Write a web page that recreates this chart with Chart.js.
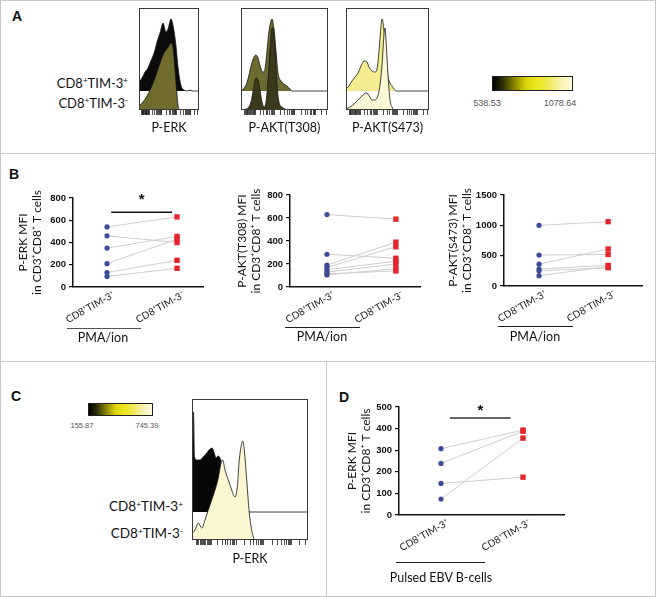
<!DOCTYPE html>
<html><head><meta charset="utf-8">
<script src="https://cdn.jsdelivr.net/npm/chart.js@4.4.1/dist/chart.umd.min.js"></script>
<style>
html,body{margin:0;padding:0}
body{width:656px;height:597px;position:relative;background:#fff;overflow:hidden;font-family:Lato,'DejaVu Sans',sans-serif;color:#111}
canvas{position:absolute}
.frame{position:absolute;left:0;top:0;width:656px;height:597px;box-sizing:border-box;border:1px solid #c8c8c8}
.hl{position:absolute;height:0;border-top:1px solid #c8c8c8}
.vl{position:absolute;width:0;border-left:1px solid #c8c8c8}
.t{position:absolute;white-space:nowrap;transform:translate(-50%,-50%);line-height:1}
.r{position:absolute;white-space:nowrap;transform:translate(-100%,-50%);line-height:1}
.pl{font-family:'Liberation Sans',Arial,sans-serif;font-weight:bold;font-size:14px}
sup{font-size:0.62em;vertical-align:0.55em;line-height:0}
.bar{position:absolute;height:0}
.cb{position:absolute;box-sizing:border-box;border:1px solid #222;background:linear-gradient(to right,#000 0%,#2e2d05 12%,#8f8a00 28%,#dcd40a 42%,#ece41c 55%,#efe84a 68%,#f6f1a6 84%,#fcf9dc 100%)}
.cbl{font-family:'Liberation Sans',Arial,sans-serif;color:#555}
</style>
</head><body>
<div class="frame"></div>
<div class="hl" style="left:0;top:153px;width:656px"></div>
<div class="hl" style="left:0;top:361px;width:656px"></div>
<div class="vl" style="left:326px;top:361px;height:236px"></div>

<div class="t pl" style="left:17px;top:16px">A</div>
<div class="t pl" style="left:14px;top:174px">B</div>
<div class="t pl" style="left:16px;top:396px">C</div>
<div class="t pl" style="left:344px;top:397px">D</div>

<!-- Panel A -->
<canvas id="a1" width="60" height="130" style="left:139px;top:8px"></canvas>
<canvas id="a2" width="87" height="130" style="left:241px;top:8px"></canvas>
<canvas id="a3" width="83" height="130" style="left:346px;top:8px"></canvas>
<div class="r" style="left:128px;top:83px;font-size:13px">CD8<sup>+</sup>TIM-3<sup>+</sup></div>
<div class="r" style="left:128px;top:103px;font-size:13px">CD8<sup>+</sup>TIM-3<sup>-</sup></div>
<div class="cb" style="left:492px;top:76px;width:81px;height:15px"></div>
<div class="t cbl" style="left:487px;top:103px;font-size:9px">538.53</div>
<div class="t cbl" style="left:560px;top:103px;font-size:9px">1078.64</div>

<!-- Panel B -->
<canvas id="b1" width="200" height="160" style="left:10px;top:180px"></canvas>
<canvas id="b2" width="199" height="160" style="left:228px;top:178px"></canvas>
<canvas id="b3" width="209" height="160" style="left:440px;top:178px"></canvas>
<div class="bar" style="left:67px;top:328px;width:74px;border-top:1.5px solid #555"></div>
<div class="bar" style="left:285px;top:327px;width:75px;border-top:1.5px solid #222"></div>
<div class="bar" style="left:498px;top:326px;width:75px;border-top:1.5px solid #222"></div>
<div class="t" style="left:103px;top:338px;font-size:12.5px">PMA/ion</div>
<div class="t" style="left:322px;top:337px;font-size:12.5px">PMA/ion</div>
<div class="t" style="left:535px;top:337px;font-size:12.5px">PMA/ion</div>

<!-- Panel C -->
<div class="cb" style="left:88px;top:403px;width:65px;height:13px"></div>
<div class="t cbl" style="left:82px;top:426px;font-size:7.5px">155.87</div>
<div class="t cbl" style="left:147px;top:426px;font-size:7.5px">745.39</div>
<canvas id="c1" width="116" height="171" style="left:192px;top:399px"></canvas>
<div class="r" style="left:183px;top:507px;font-size:13.5px">CD8<sup>+</sup>TIM-3<sup>+</sup></div>
<div class="r" style="left:183px;top:534px;font-size:13.5px">CD8<sup>+</sup>TIM-3<sup>-</sup></div>

<!-- Panel D -->
<canvas id="d1" width="236" height="180" style="left:335px;top:390px"></canvas>
<div class="bar" style="left:396px;top:562px;width:89px;border-top:1px solid #222"></div>
<div class="t" style="left:441px;top:578px;font-size:12.5px">Pulsed EBV B-cells</div>

<script>
// ---------- data ----------
const GROUPS = ['CD8\u207ATIM-3\u207A', 'CD8\u207ATIM-3\u207B'];

// Panel B: paired MFI values (TIM-3+ vs TIM-3-), PMA/ion
const PERK_TIM3POS = [540, 460, 350, 210, 130, 95];
const PERK_TIM3NEG = [630, 400, 455, 430, 240, 168];
const AKT308_TIM3POS = [630, 285, 190, 170, 150, 130, 115, 105];
const AKT308_TIM3NEG = [590, 250, 390, 350, 225, 200, 140, 160];
const AKT473_TIM3POS = [1000, 510, 360, 280, 250, 170];
const AKT473_TIM3NEG = [1060, 520, 610, 340, 300, 320];
// Panel D: pulsed EBV B-cells
const EBV_TIM3POS = [307, 239, 146, 74];
const EBV_TIM3NEG = [393, 388, 175, 356];

// Y tick settings
const YMAX_B12 = 800, YSTEP_B12 = 200;
const YMAX_B3 = 1500, YSTEP_B3 = 500;
const YMAX_D = 500, YSTEP_D = 100;

// Histograms: [channel, count]
const HIST_PERK_POS = [[0,9],[3,13],[6,19],[9,23],[11,28],[14,35],[16,41],[18,49],[21,58],[24,68],[27,59],[29,62],[32,72],[35,60],[37,45],[39,24],[41,10],[43,3],[45,1],[47,0],[52,0.8],[53,0],[60,0]];
const HIST_PERK_NEG = [[0,4],[4,8],[8,14],[12,22],[16,32],[20,44],[24,55],[27,60],[30,64],[32,67],[34,62],[36,40],[38,15],[39,5],[41,0],[60,0]];
const HIST_AKT308_POS = [[0,0],[1,1],[4,4],[7,12],[10,25],[13,34],[15,36],[17,33],[20,22],[22,19],[24,22],[26,40],[28,60],[30,70],[31,72],[33,62],[35,40],[37,18],[40,10],[43,7],[46,5],[49,2],[51,0],[87,0]];
const HIST_AKT308_NEG = [[0,0],[7,2],[10,8],[13,24],[15,32],[17,30],[19,20],[21,8],[23,3],[25,8],[27,30],[29,60],[31,82],[32,82],[34,60],[36,25],[38,8],[41,3],[44,1],[47,0],[87,0]];
const HIST_AKT473_POS = [[0,2],[3,5],[6,10],[9,14],[12,18],[15,25],[18,30],[21,29],[23,24],[26,20],[29,19],[31,22],[33,40],[35,65],[36,72],[38,60],[40,30],[42,14],[44,8],[46,5],[48,2],[50,0],[83,0]];
const HIST_AKT473_NEG = [[0,1],[4,3],[8,6],[12,10],[16,14],[20,17],[22,16],[25,11],[28,10],[31,12],[34,25],[36,45],[38,75],[39,82],[40,70],[42,35],[44,10],[46,3],[49,0],[83,0]];
const HIST_C_POS = [[0,0],[0.3,100],[1.5,100],[2.5,55],[5,52],[8,52],[11,55],[14,58],[17,62],[20,64],[22,60],[24,54],[26,56],[28,54],[30,48],[32,40],[34,28],[36,16],[38,8],[40,3],[43,0],[116,0]];
const HIST_C_NEG = [[0.3,7],[3,10],[6.3,17],[9.7,12],[13,20],[16.3,30],[19.7,40],[23,50],[26.3,62],[29,77],[30.7,80],[33,70],[36.3,60],[39.7,50],[43,43],[45.3,53],[47.3,80],[49,93],[50.7,99],[52.3,90],[54.7,60],[57.3,27],[59.7,10],[61.3,3],[63,0],[116,0]];

// Axis tick positions (fraction of axis range) for the flow histograms
const FLOW_TICK_FRACS = [0.04,0.05,0.06,0.07,0.08,0.09,0.10,0.11,0.12,0.13,0.14,0.15,0.16,0.17,
  0.22,0.26,0.29,0.31,0.33,0.345,0.36,0.37,0.38,
  0.45,0.50,0.53,0.555,0.575,0.59,0.60,0.61,0.62,
  0.69,0.74,0.77,0.795,0.815,0.83,0.84,0.85,0.86,0.93,0.98];

const FONT = "Lato, 'DejaVu Sans', sans-serif";
const TICKFONT = "'Liberation Sans', Arial, sans-serif";
Chart.defaults.font.family = FONT;

// ---------- plugins ----------
const boxPlugin = {
  id:'box',
  afterDraw(chart){
    const a = chart.chartArea, ctx = chart.ctx;
    ctx.save();
    ctx.strokeStyle = '#3a3a3a'; ctx.lineWidth = 1;
    ctx.strokeRect(Math.round(a.left)+0.5, Math.round(a.top)+0.5, Math.round(a.right-a.left)-1, Math.round(a.bottom-a.top)-1);
    ctx.restore();
  }
};
const sigPlugin = {
  id:'sig',
  afterDraw(chart, args, opts){
    if (!opts || !opts.show) return;
    const x = chart.scales.x, y = chart.scales.y, ctx = chart.ctx;
    const x1 = x.getPixelForValue(opts.from), x2 = x.getPixelForValue(opts.to), yy = y.getPixelForValue(opts.y);
    ctx.save();
    ctx.strokeStyle = opts.color; ctx.lineWidth = opts.width;
    ctx.beginPath(); ctx.moveTo(x1, yy); ctx.lineTo(x2, yy); ctx.stroke();
    ctx.fillStyle = '#111'; ctx.font = 'bold 15px ' + TICKFONT;
    ctx.textAlign = 'center'; ctx.textBaseline = 'middle';
    ctx.fillText('*', (x1+x2)/2, yy - opts.starGap);
    ctx.restore();
  }
};
// rotated group labels under the x axis, anchored at each group's tick
const groupLabelPlugin = {
  id:'groupLabels',
  afterDraw(chart){
    const x = chart.scales.x, ctx = chart.ctx, base = chart.chartArea.bottom;
    ctx.save();
    ctx.fillStyle = '#222';
    ctx.font = '10px ' + FONT;
    ctx.textAlign = 'right'; ctx.textBaseline = 'middle';
    GROUPS.forEach((g, i) => {
      ctx.save();
      ctx.translate(x.getPixelForValue(i) + 7, base + 7);
      ctx.rotate(-Math.PI / 6.2);
      ctx.fillText(g, 0, 0);
      ctx.restore();
    });
    ctx.restore();
  }
};

// ---------- charts ----------
function pairChart(id, pos, neg, o){
  const datasets = pos.map((v,i)=>({
    data:[{x:0,y:v},{x:1,y:neg[i]}],
    showLine:true, borderColor:'#cdcdcd', borderWidth:1,
    pointStyle:['circle','rect'], pointRadius:[2.6,3.8], pointHoverRadius:[2.6,3.8],
    pointBackgroundColor:['#3d4a98','#e2262c'], pointBorderWidth:0
  }));
  new Chart(document.getElementById(id), {
    type:'scatter',
    data:{datasets},
    options:{
      responsive:false, animation:false, devicePixelRatio:1,
      layout:{padding:{top:o.pt,right:7,left:0,bottom:0}},
      plugins:{legend:{display:false}, tooltip:{enabled:false}, sig:o.sig || {show:false}},
      scales:{
        x:{type:'linear', min:o.xmin, max:o.xmax,
          afterBuildTicks:s=>{s.ticks=[{value:0},{value:1}];},
          afterFit:s=>{s.height=o.xh;},
          grid:{display:false, drawTicks:false, tickLength:0}, border:{display:true,color:'#111',width:1.5},
          ticks:{display:false}},
        y:{min:0, max:o.ymax,
          afterFit:s=>{s.width=o.yw;},
          ticks:{stepSize:o.step, callback:v=>String(v), font:{family:TICKFONT,size:9.5,weight:'bold'}, color:'#111', padding:3},
          grid:{drawOnChartArea:false, drawTicks:true, tickLength:4, color:'#111', lineWidth:1.2},
          border:{display:true,color:'#111',width:1.5},
          title:{display:true, text:o.title, font:{family:FONT,size:12,lineHeight:1.2}, color:'#111', padding:{top:o.tp,bottom:0}}}
      }
    },
    plugins:[sigPlugin, groupLabelPlugin]
  });
}

function histChart(id, upper, lower, o){
  const datasets = [
    {data:lower.map(p=>({x:p[0],y:p[1]})), showLine:true, fill:'origin',
     backgroundColor:o.lowerColor, borderColor:'#151515', borderWidth:0.8, pointRadius:0, cubicInterpolationMode:'monotone'},
    {data:upper.map(p=>({x:p[0],y:p[1]+o.offset})), showLine:true, fill:{value:o.offset},
     backgroundColor:o.upperColor, borderColor:'#151515', borderWidth:0.8, pointRadius:0, cubicInterpolationMode:'monotone'}
  ];
  new Chart(document.getElementById(id), {
    type:'scatter',
    data:{datasets},
    options:{
      responsive:false, animation:false, devicePixelRatio:1,
      layout:{padding:0},
      plugins:{legend:{display:false}, tooltip:{enabled:false}},
      scales:{
        x:{type:'linear', min:0, max:o.w,
          afterBuildTicks:s=>{s.ticks=FLOW_TICK_FRACS.map(f=>({value:f*o.w}));},
          afterFit:s=>{s.height=o.xh;},
          ticks:{display:false},
          grid:{display:true, drawOnChartArea:false, drawTicks:true, tickLength:5, color:'#222', lineWidth:0.8},
          border:{display:false},
          title:{display:true, text:o.label, font:{family:FONT,size:12.5,lineHeight:1.2}, color:'#111', padding:{top:2,bottom:o.tb}}},
        y:{display:false, min:0, max:o.h}
      }
    },
    plugins:[boxPlugin]
  });
}

histChart('a1', HIST_PERK_POS, HIST_PERK_NEG, {w:60, h:102, offset:19, xh:28, tb:2.5, label:'P-ERK', upperColor:'#0b0b0b', lowerColor:'#6f6c2d'});
histChart('a2', HIST_AKT308_POS, HIST_AKT308_NEG, {w:87, h:102, offset:19, xh:28, tb:2.5, label:'P-AKT(T308)', upperColor:'#6d6b30', lowerColor:'#3a391c'});
histChart('a3', HIST_AKT473_POS, HIST_AKT473_NEG, {w:83, h:102, offset:19, xh:28, tb:2.5, label:'P-AKT(S473)', upperColor:'#f3ec8e', lowerColor:'#fcf9d6'});
histChart('c1', HIST_C_POS, HIST_C_NEG, {w:116, h:141, offset:28, xh:30, tb:3.5, label:'P-ERK', upperColor:'#070707', lowerColor:'#fbf7d1'});

pairChart('b1', PERK_TIM3POS, PERK_TIM3NEG, {pt:18, xh:53, yw:63, tp:5.5, xmin:-0.486, xmax:1.371, ymax:YMAX_B12, step:YSTEP_B12,
  title:['P-ERK MFI','in CD3\u207ACD8\u207A T cells'], sig:{show:true, from:0.06, to:0.93, y:672, color:'#111', width:1.5, starGap:12}});
pairChart('b2', AKT308_TIM3POS, AKT308_TIM3NEG, {pt:17, xh:51, yw:62, tp:6.5, xmin:-0.536, xmax:1.35, ymax:YMAX_B12, step:YSTEP_B12,
  title:['P-AKT(T308) MFI','in CD3\u207ACD8\u207A T cells']});
pairChart('b3', AKT473_TIM3POS, AKT473_TIM3NEG, {pt:17, xh:52, yw:64, tp:5.5, xmin:-0.507, xmax:1.49, ymax:YMAX_B3, step:YSTEP_B3,
  title:['P-AKT(S473) MFI','in CD3\u207ACD8\u207A T cells']});
pairChart('d1', EBV_TIM3POS, EBV_TIM3NEG, {pt:17, xh:55, yw:64, tp:9.5, xmin:-0.512, xmax:1.5, ymax:YMAX_D, step:YSTEP_D,
  title:['P-ERK MFI','in CD3\u207ACD8\u207A T cells'], sig:{show:true, from:0.11, to:0.85, y:449, color:'#666', width:2, starGap:7}});
</script>
</body></html>
